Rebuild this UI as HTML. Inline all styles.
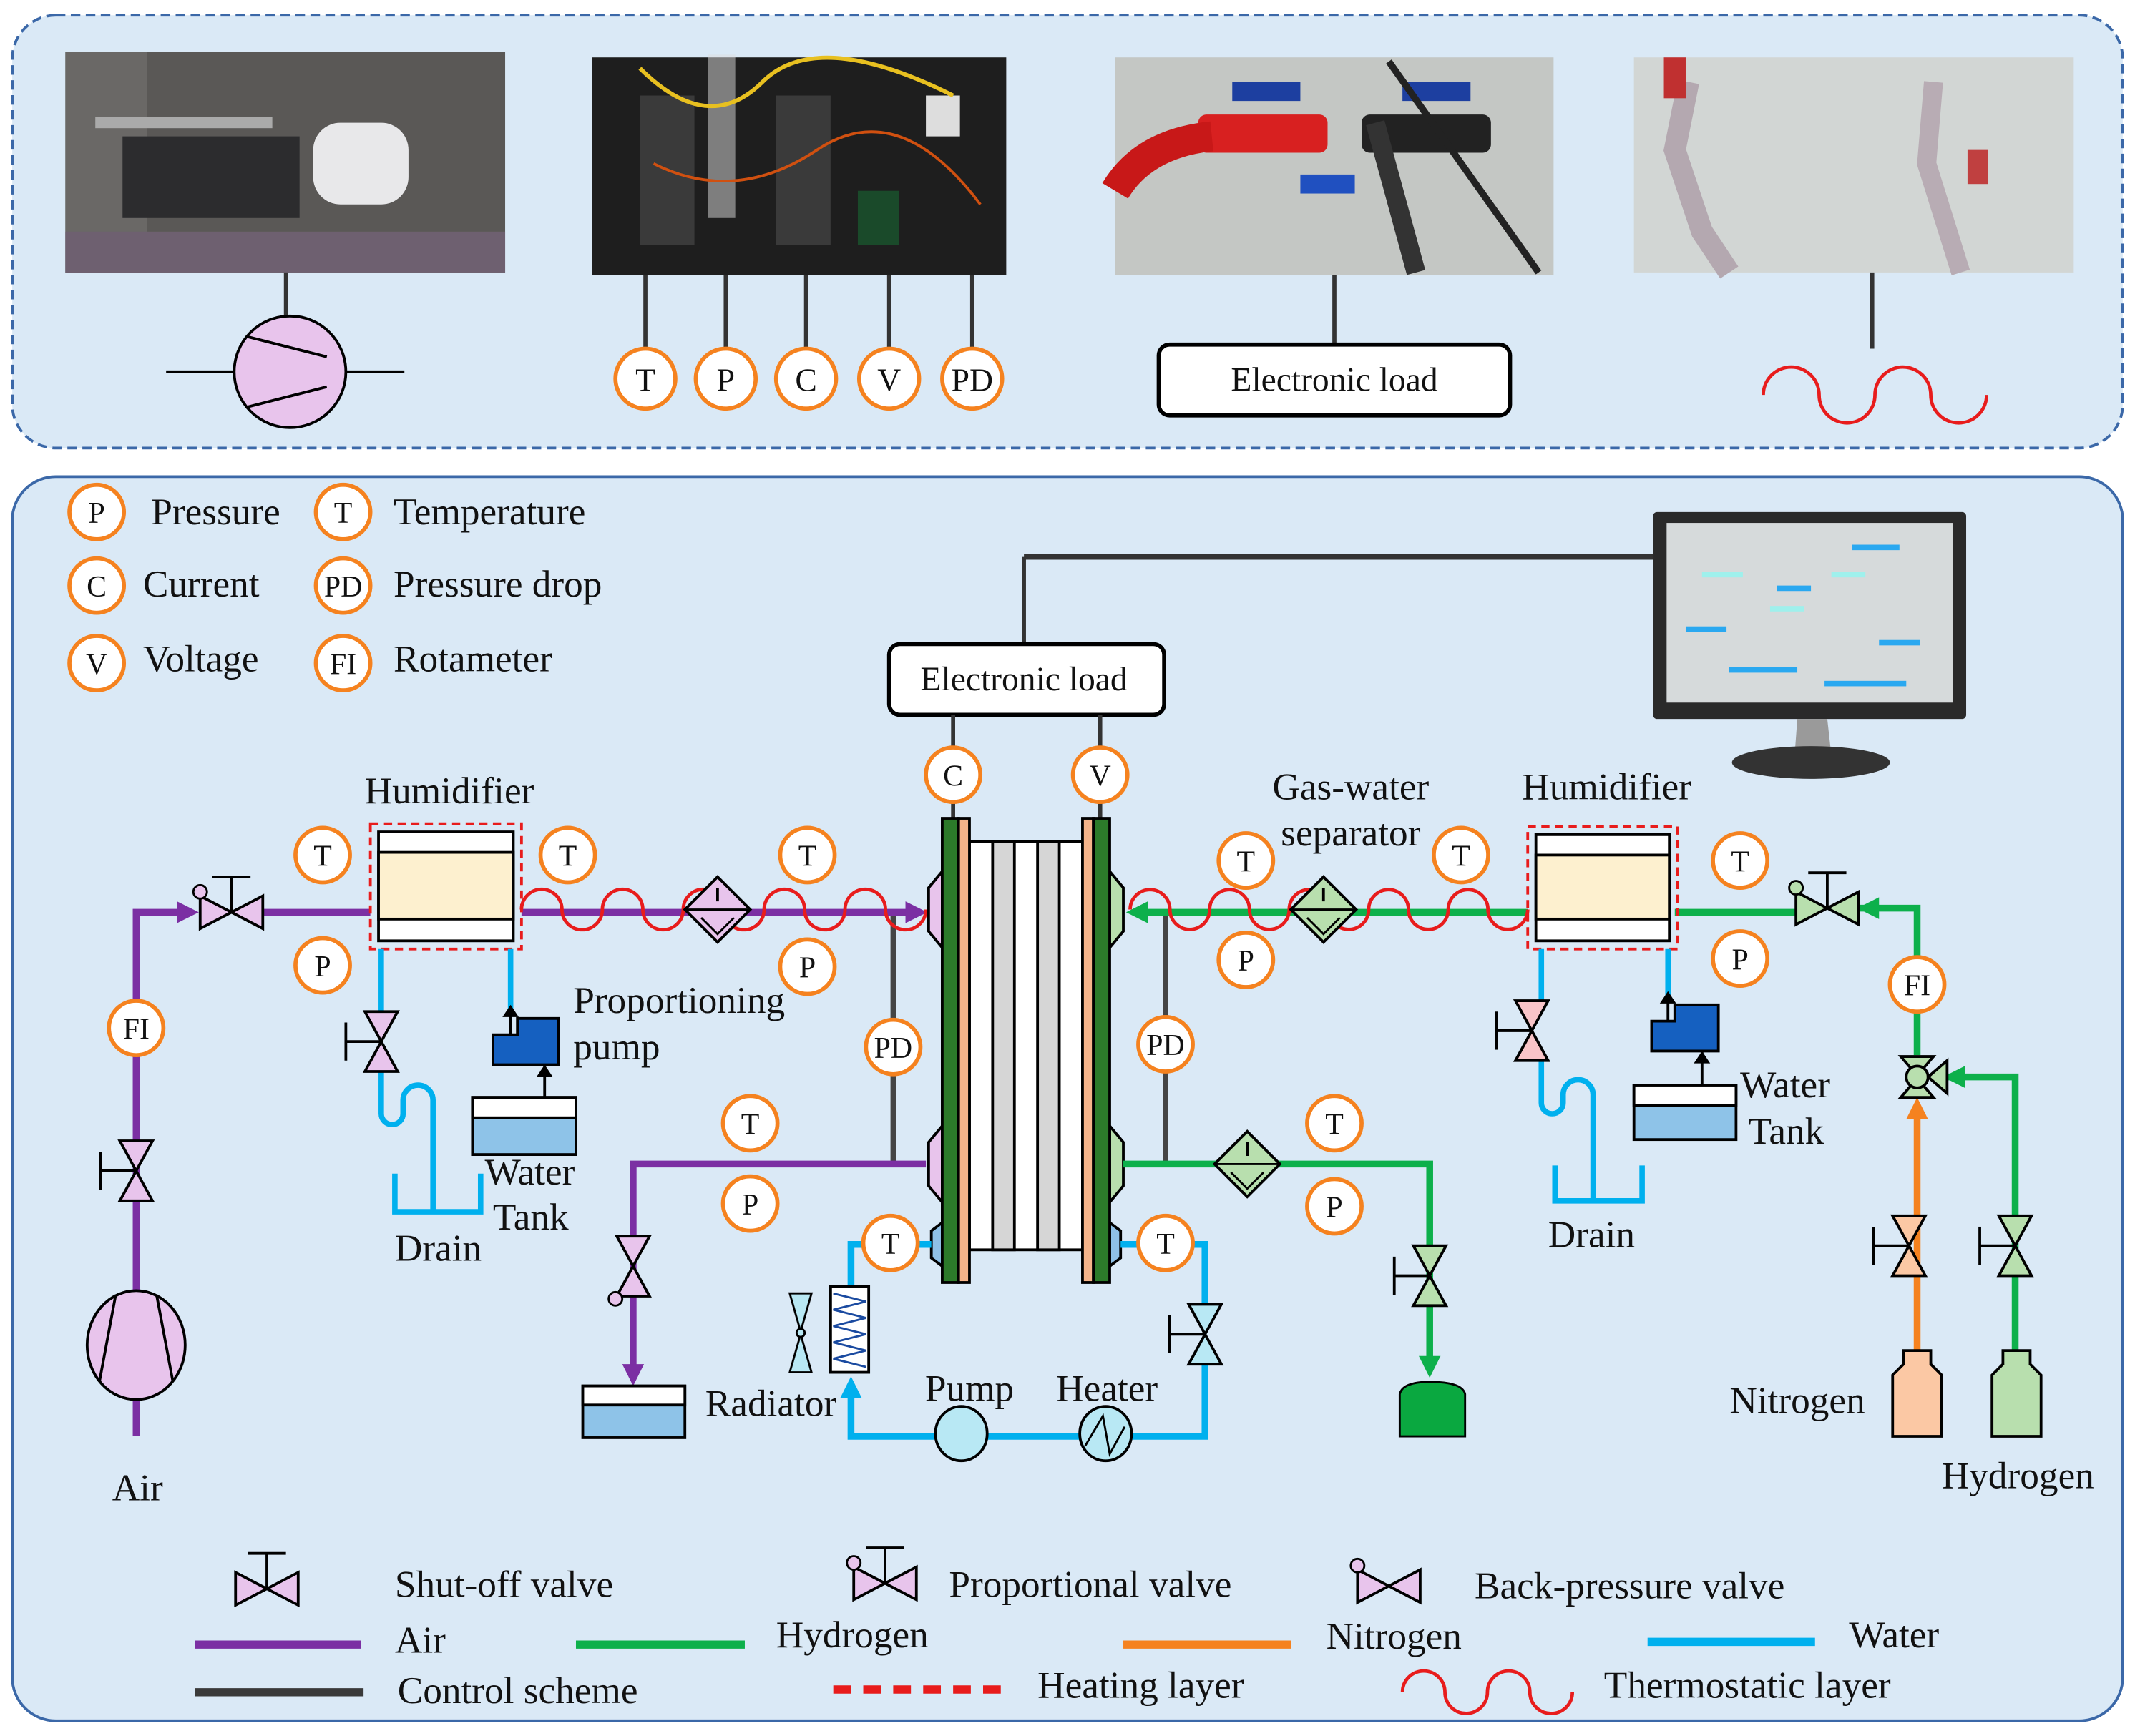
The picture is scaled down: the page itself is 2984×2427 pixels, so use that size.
<!DOCTYPE html>
<html><head><meta charset="utf-8">
<style>
html,body{margin:0;padding:0;background:#fff;}
svg{display:block;}
text{font-family:"Liberation Serif",serif;fill:#111;}
</style></head>
<body>
<svg width="2984" height="2427" viewBox="0 0 1568 1275" xmlns="http://www.w3.org/2000/svg">
<defs>
  <symbol id="vh" overflow="visible"><polygon points="-23,-12 -23,12 0,0" stroke="#000" stroke-width="2"/><polygon points="23,-12 23,12 0,0" stroke="#000" stroke-width="2"/></symbol>
  <symbol id="vv" overflow="visible"><polygon points="-12,-22 12,-22 0,0" stroke="#000" stroke-width="2"/><polygon points="-12,22 12,22 0,0" stroke="#000" stroke-width="2"/></symbol>
  <symbol id="stemUp" overflow="visible"><line x1="0" y1="0" x2="0" y2="-26" stroke="#000" stroke-width="2"/><line x1="-14" y1="-26" x2="14" y2="-26" stroke="#000" stroke-width="2"/></symbol>
  <symbol id="stemLeft" overflow="visible"><line x1="0" y1="0" x2="-26" y2="0" stroke="#000" stroke-width="2"/><line x1="-26" y1="-14" x2="-26" y2="14" stroke="#000" stroke-width="2"/></symbol>
</defs>

<!-- TOP PANEL -->
<rect x="9" y="11" width="1550" height="318" rx="32" fill="#dae9f6" stroke="#3b68a8" stroke-width="2" stroke-dasharray="7,4"/>
<rect x="48" y="38" width="323" height="162" fill="#5a5856"/>
<rect x="48" y="38" width="60" height="162" fill="#6a6866"/>
<rect x="230" y="90" width="70" height="60" rx="20" fill="#e8e8ea"/>
<rect x="90" y="100" width="130" height="60" fill="#2c2c2e"/>
<rect x="70" y="86" width="130" height="8" fill="#aaa"/>
<rect x="48" y="170" width="323" height="30" fill="#6e6070"/>
<rect x="435" y="42" width="304" height="160" fill="#1e1e1e"/>
<rect x="470" y="70" width="40" height="110" fill="#3a3a3a"/>
<rect x="570" y="70" width="40" height="110" fill="#3a3a3a"/>
<rect x="520" y="40" width="20" height="120" fill="#ddd" opacity=".5"/>
<rect x="680" y="70" width="25" height="30" fill="#ddd"/>
<rect x="630" y="140" width="30" height="40" fill="#1a4a2a"/>
<path d="M470 50 Q520 100 560 60 T700 70" stroke="#e8c020" stroke-width="3" fill="none"/>
<path d="M480 120 Q540 150 600 110 T720 150" stroke="#d05010" stroke-width="2" fill="none"/>
<rect x="819" y="42" width="322" height="160" fill="#c4c7c4"/>
<rect x="905" y="60" width="50" height="14" fill="#1d3fa0"/>
<rect x="1030" y="60" width="50" height="14" fill="#1d3fa0"/>
<rect x="880" y="84" width="95" height="28" rx="6" fill="#d82020"/>
<path d="M819 140 Q840 105 890 100" stroke="#c81818" stroke-width="22" fill="none"/>
<rect x="1000" y="84" width="95" height="28" rx="6" fill="#222"/>
<path d="M1010 90 L1040 200" stroke="#333" stroke-width="14"/>
<path d="M1020 45 L1130 200" stroke="#222" stroke-width="5"/>
<rect x="955" y="128" width="40" height="14" fill="#2050c0"/>
<rect x="1200" y="42" width="323" height="158" fill="#d2d6d4"/>
<path d="M1240 60 L1230 110 L1250 170 L1270 200" stroke="#b4a8b0" stroke-width="16" fill="none"/>
<path d="M1420 60 L1415 120 L1440 200" stroke="#b8acb4" stroke-width="14" fill="none"/>
<rect x="1222" y="42" width="16" height="30" fill="#c03030"/>
<rect x="1445" y="110" width="15" height="25" fill="#c04040"/>
<line x1="210" y1="200" x2="210" y2="232" stroke="#333" stroke-width="3"/>
<line x1="122" y1="273" x2="297" y2="273" stroke="#000" stroke-width="2"/>
<circle cx="213" cy="273" r="41" fill="#e8c4ec" stroke="#000" stroke-width="2"/>
<line x1="181" y1="247" x2="240" y2="262" stroke="#000" stroke-width="2"/>
<line x1="181" y1="299" x2="240" y2="284" stroke="#000" stroke-width="2"/>
<g stroke="#333" stroke-width="3">
<line x1="474" y1="202" x2="474" y2="258"/><line x1="533" y1="202" x2="533" y2="258"/><line x1="592" y1="202" x2="592" y2="258"/><line x1="653" y1="202" x2="653" y2="258"/><line x1="714" y1="202" x2="714" y2="258"/>
<line x1="980" y1="202" x2="980" y2="253"/><line x1="1375" y1="200" x2="1375" y2="256"/>
</g>
<g fill="#fff" stroke="#f5821f" stroke-width="3">
<circle cx="474" cy="278" r="22"/><circle cx="533" cy="278" r="22"/><circle cx="592" cy="278" r="22"/><circle cx="653" cy="278" r="22"/><circle cx="714" cy="278" r="22"/>
</g>
<g font-size="24" text-anchor="middle">
<text x="474" y="287">T</text><text x="533" y="287">P</text><text x="592" y="287">C</text><text x="653" y="287">V</text><text x="714" y="287">PD</text>
</g>
<rect x="851" y="253" width="258" height="52" rx="8" fill="#fff" stroke="#000" stroke-width="3"/>
<text x="980" y="287" font-size="25" text-anchor="middle">Electronic load</text>
<path d="M1295 290 a20.5 20.5 0 0 1 41 0 a20.5 20.5 0 0 0 41 0 a20.5 20.5 0 0 1 41 0 a20.5 20.5 0 0 0 41 0" stroke="#e81c1c" stroke-width="2.5" fill="none"/>

<!-- BOTTOM PANEL -->
<rect x="9" y="350" width="1550" height="914" rx="32" fill="#dae9f6" stroke="#3b68a8" stroke-width="2"/>

<g fill="#fff" stroke="#f5821f" stroke-width="3">
<circle cx="71" cy="376" r="20"/><circle cx="252" cy="376" r="20"/><circle cx="71" cy="430" r="20"/><circle cx="252" cy="430" r="20"/><circle cx="71" cy="487" r="20"/><circle cx="252" cy="487" r="20"/>
</g>
<g font-size="22" text-anchor="middle">
<text x="71" y="384">P</text><text x="252" y="384">T</text><text x="71" y="438">C</text><text x="252" y="438">PD</text><text x="71" y="495">V</text><text x="252" y="495">FI</text>
</g>
<g font-size="28">
<text x="111" y="385">Pressure</text><text x="289" y="385">Temperature</text>
<text x="105" y="438">Current</text><text x="289" y="438">Pressure drop</text>
<text x="105" y="493">Voltage</text><text x="289" y="493">Rotameter</text>
</g>

<line x1="752" y1="473" x2="752" y2="409" stroke="#333" stroke-width="3"/>
<line x1="752" y1="409" x2="1216" y2="409" stroke="#333" stroke-width="4"/>
<rect x="1214" y="376" width="230" height="152" rx="3" fill="#2a2a2a"/>
<rect x="1224" y="384" width="210" height="132" fill="#d6dadb"/>
<g fill="#2aa8f0"><rect x="1360" y="400" width="35" height="4"/><rect x="1305" y="430" width="25" height="4"/><rect x="1238" y="460" width="30" height="4"/><rect x="1380" y="470" width="30" height="4"/><rect x="1270" y="490" width="50" height="4"/><rect x="1340" y="500" width="60" height="4"/></g>
<g fill="#9ff0ec"><rect x="1250" y="420" width="30" height="4"/><rect x="1300" y="445" width="25" height="4"/><rect x="1345" y="420" width="25" height="4"/></g>
<polygon points="1320,528 1342,528 1345,555 1318,555" fill="#9a9a9a"/>
<ellipse cx="1330" cy="560" rx="58" ry="12" fill="#333"/>

<rect x="653" y="473" width="202" height="52" rx="8" fill="#fff" stroke="#000" stroke-width="3"/>
<text x="752" y="507" font-size="25" text-anchor="middle">Electronic load</text>
<line x1="700" y1="525" x2="700" y2="601" stroke="#333" stroke-width="3"/>
<line x1="808" y1="525" x2="808" y2="601" stroke="#333" stroke-width="3"/>

<line x1="656" y1="670" x2="656" y2="855" stroke="#444" stroke-width="4"/>
<line x1="856" y1="670" x2="856" y2="855" stroke="#444" stroke-width="4"/>

<g stroke="#7b2fa3" stroke-width="5" fill="none">
<polyline points="100,1055 100,670 140,670"/>
<line x1="184" y1="670" x2="272" y2="670"/>
<line x1="383" y1="670" x2="670" y2="670"/>
<polyline points="680,855 465,855 465,1005"/>
</g>
<polygon points="130,662 146,670 130,678" fill="#7b2fa3"/>
<polygon points="665,662 681,670 665,678" fill="#7b2fa3"/>
<polygon points="457,1002 465,1018 473,1002" fill="#7b2fa3"/>
<ellipse cx="100" cy="988" rx="36" ry="40" fill="#e8c4ec" stroke="#000" stroke-width="2"/>
<line x1="85" y1="951" x2="73" y2="1015" stroke="#000" stroke-width="2"/>
<line x1="115" y1="951" x2="127" y2="1015" stroke="#000" stroke-width="2"/>
<text x="101" y="1102" font-size="28" text-anchor="middle">Air</text>
<use href="#stemLeft" x="100" y="860"/><use href="#vv" x="100" y="860" fill="#e8c4ec"/>
<use href="#stemUp" x="170" y="670"/><use href="#vh" x="170" y="670" fill="#e8c4ec"/>
<circle cx="147" cy="655" r="5" fill="#e8c4ec" stroke="#000" stroke-width="1.5"/>
<use href="#vv" x="465" y="930" fill="#e8c4ec"/>
<circle cx="452" cy="954" r="5" fill="#e8c4ec" stroke="#000" stroke-width="1.5"/>
<rect x="428" y="1018" width="75" height="38" fill="#8ec3e8" stroke="#000" stroke-width="2"/>
<rect x="428" y="1018" width="75" height="14" fill="#fff" stroke="#000" stroke-width="2"/>

<rect x="272" y="605" width="111" height="92" fill="none" stroke="#e81c1c" stroke-width="2" stroke-dasharray="6,4"/>
<rect x="278" y="611" width="99" height="80" fill="#fff" stroke="#000" stroke-width="2"/>
<rect x="278" y="626" width="99" height="49" fill="#fdf0cf" stroke="#000" stroke-width="2"/>
<text x="330" y="590" font-size="28" text-anchor="middle">Humidifier</text>
<g stroke="#00b0ee" stroke-width="4" fill="none">
<line x1="280" y1="697" x2="280" y2="745"/>
<path d="M280 785 L280 818 a8 8 0 0 0 16 0 L296 808 a11 11 0 0 1 22 0 L318 890"/>
<polyline points="290,862 290,890 353,890 353,862"/>
<line x1="375" y1="697" x2="375" y2="742"/>
</g>
<use href="#stemLeft" x="280" y="765"/><use href="#vv" x="280" y="765" fill="#e8c4ec"/>
<line x1="375" y1="742" x2="375" y2="760" stroke="#000" stroke-width="2"/>
<polygon points="369,747 375,738 381,747" fill="#000"/>
<polygon points="362,760 380,760 380,748 410,748 410,782 362,782" fill="#1560c0" stroke="#000" stroke-width="2"/>
<line x1="400" y1="782" x2="400" y2="806" stroke="#000" stroke-width="2"/>
<polygon points="394,791 400,782 406,791" fill="#000"/>
<rect x="347" y="806" width="76" height="42" fill="#8ec3e8" stroke="#000" stroke-width="2"/>
<rect x="347" y="806" width="76" height="15" fill="#fff" stroke="#000" stroke-width="2"/>
<text x="421" y="744" font-size="28">Proportioning</text>
<text x="421" y="778" font-size="28">pump</text>
<text x="356" y="870" font-size="28">Water</text>
<text x="362" y="903" font-size="28">Tank</text>
<text x="290" y="926" font-size="28">Drain</text>

<path d="M383 668 a14.85 14.85 0 0 1 29.7 0 a14.85 14.85 0 0 0 29.7 0 a14.85 14.85 0 0 1 29.7 0 a14.85 14.85 0 0 0 29.7 0 a14.85 14.85 0 0 1 29.7 0 a14.85 14.85 0 0 0 29.7 0 a14.85 14.85 0 0 1 29.7 0 a14.85 14.85 0 0 0 29.7 0 a14.85 14.85 0 0 1 29.7 0 a14.85 14.85 0 0 0 29.7 0" stroke="#e81c1c" stroke-width="2.5" fill="none"/>
<polygon points="527,644 551,668 527,692 503,668" fill="#e8c4ec" stroke="#000" stroke-width="2"/>
<line x1="503" y1="668" x2="551" y2="668" stroke="#000" stroke-width="1.5"/>
<polyline points="515,674 527,686 539,674" fill="none" stroke="#000" stroke-width="1.5"/>
<line x1="527" y1="652" x2="527" y2="662" stroke="#000" stroke-width="2"/>

<!-- STACK -->
<polygon points="692,640 682,652 682,684 692,696" fill="#e8c4ec" stroke="#000" stroke-width="2"/>
<polygon points="692,827 682,839 682,871 692,883" fill="#e8c4ec" stroke="#000" stroke-width="2"/>
<polygon points="692,898 684,904 684,924 692,930" fill="#8fc0e6" stroke="#000" stroke-width="2"/>
<polygon points="815,640 825,652 825,684 815,696" fill="#b8dfae" stroke="#000" stroke-width="2"/>
<polygon points="815,827 825,839 825,871 815,883" fill="#b8dfae" stroke="#000" stroke-width="2"/>
<polygon points="815,898 823,904 823,924 815,930" fill="#8fc0e6" stroke="#000" stroke-width="2"/>
<rect x="712" y="618" width="83" height="300" fill="#fff" stroke="#000" stroke-width="2"/>
<rect x="729" y="618" width="16" height="300" fill="#d6d6d6" stroke="#000" stroke-width="2"/>
<rect x="762" y="618" width="16" height="300" fill="#d6d6d6" stroke="#000" stroke-width="2"/>
<rect x="692" y="601" width="12" height="341" fill="#2c7a2a" stroke="#000" stroke-width="2"/>
<rect x="704" y="601" width="8" height="341" fill="#f5b48a" stroke="#000" stroke-width="2"/>
<rect x="795" y="601" width="8" height="341" fill="#f5b48a" stroke="#000" stroke-width="2"/>
<rect x="803" y="601" width="12" height="341" fill="#2c7a2a" stroke="#000" stroke-width="2"/>

<!-- HYDROGEN -->
<g stroke="#0db04b" stroke-width="5" fill="none">
<line x1="840" y1="670" x2="1122" y2="670"/>
<line x1="1230" y1="670" x2="1320" y2="670"/>
<polyline points="1362,667 1408,667 1408,702"/>
<line x1="1408" y1="744" x2="1408" y2="775"/>
<polyline points="1430,791 1480,791 1480,1000"/>
<polyline points="825,855 1050,855 1050,1000"/>
</g>
<polygon points="843,662 827,670 843,678" fill="#0db04b"/>
<polygon points="1380,659 1364,667 1380,675" fill="#0db04b"/>
<polygon points="1443,783 1427,791 1443,799" fill="#0db04b"/>
<polygon points="1042,996 1050,1012 1058,996" fill="#0db04b"/>
<line x1="1408" y1="1000" x2="1408" y2="815" stroke="#f5821f" stroke-width="5"/>
<polygon points="1400,822 1408,806 1416,822" fill="#f5821f"/>
<path d="M830 668 a14.6 14.6 0 0 1 29.2 0 a14.6 14.6 0 0 0 29.2 0 a14.6 14.6 0 0 1 29.2 0 a14.6 14.6 0 0 0 29.2 0 a14.6 14.6 0 0 1 29.2 0 a14.6 14.6 0 0 0 29.2 0 a14.6 14.6 0 0 1 29.2 0 a14.6 14.6 0 0 0 29.2 0 a14.6 14.6 0 0 1 29.2 0 a14.6 14.6 0 0 0 29.2 0" stroke="#e81c1c" stroke-width="2.5" fill="none"/>
<polygon points="972,644 996,668 972,692 948,668" fill="#b8dfae" stroke="#000" stroke-width="2"/>
<line x1="948" y1="668" x2="996" y2="668" stroke="#000" stroke-width="1.5"/>
<polyline points="960,674 972,686 984,674" fill="none" stroke="#000" stroke-width="1.5"/>
<line x1="972" y1="652" x2="972" y2="662" stroke="#000" stroke-width="2"/>
<polygon points="916,831 940,855 916,879 892,855" fill="#b8dfae" stroke="#000" stroke-width="2"/>
<line x1="892" y1="855" x2="940" y2="855" stroke="#000" stroke-width="1.5"/>
<polyline points="904,861 916,873 928,861" fill="none" stroke="#000" stroke-width="1.5"/>
<line x1="916" y1="839" x2="916" y2="849" stroke="#000" stroke-width="2"/>
<rect x="1122" y="607" width="110" height="90" fill="none" stroke="#e81c1c" stroke-width="2" stroke-dasharray="6,4"/>
<rect x="1128" y="613" width="98" height="78" fill="#fff" stroke="#000" stroke-width="2"/>
<rect x="1128" y="628" width="98" height="47" fill="#fdf0cf" stroke="#000" stroke-width="2"/>
<text x="1180" y="587" font-size="28" text-anchor="middle">Humidifier</text>
<text x="992" y="587" font-size="28" text-anchor="middle">Gas-water</text>
<text x="992" y="621" font-size="28" text-anchor="middle">separator</text>
<use href="#stemUp" x="1342" y="667"/><use href="#vh" x="1342" y="667" fill="#b8dfae"/>
<circle cx="1319" cy="652" r="5" fill="#b8dfae" stroke="#000" stroke-width="1.5"/>
<polygon points="1396,776 1420,776 1408,790" fill="#b8dfae" stroke="#000" stroke-width="2"/>
<polygon points="1396,806 1420,806 1408,792" fill="#b8dfae" stroke="#000" stroke-width="2"/>
<polygon points="1430,779 1430,803 1416,791" fill="#b8dfae" stroke="#000" stroke-width="2"/>
<circle cx="1408" cy="791" r="8" fill="#b8dfae" stroke="#000" stroke-width="2"/>
<use href="#stemLeft" x="1402" y="915"/><use href="#vv" x="1402" y="915" fill="#fbc8a4"/>
<use href="#stemLeft" x="1480" y="915"/><use href="#vv" x="1480" y="915" fill="#b8dfae"/>
<use href="#stemLeft" x="1050" y="937"/><use href="#vv" x="1050" y="937" fill="#b8dfae"/>
<path d="M1390 1055 L1390 1010 L1398 1002 L1398 992 L1418 992 L1418 1002 L1426 1010 L1426 1055 Z" fill="#fbc8a4" stroke="#000" stroke-width="2"/>
<path d="M1463 1055 L1463 1010 L1471 1002 L1471 992 L1491 992 L1491 1002 L1499 1010 L1499 1055 Z" fill="#b8dfae" stroke="#000" stroke-width="2"/>
<path d="M1028 1055 L1028 1024 Q1030 1015 1050 1015 Q1074 1015 1076 1024 L1076 1055 Z" fill="#0aa840" stroke="#000" stroke-width="1.5"/>
<text x="1320" y="1038" font-size="28" text-anchor="middle">Nitrogen</text>
<text x="1482" y="1093" font-size="28" text-anchor="middle">Hydrogen</text>
<g stroke="#00b0ee" stroke-width="4" fill="none">
<line x1="1132" y1="697" x2="1132" y2="738"/>
<path d="M1132 778 L1132 810 a8 8 0 0 0 16 0 L1148 804 a11 11 0 0 1 22 0 L1170 882"/>
<polyline points="1142,856 1142,882 1206,882 1206,856"/>
<line x1="1225" y1="697" x2="1225" y2="732"/>
</g>
<use href="#stemLeft" x="1125" y="757"/><use href="#vv" x="1125" y="757" fill="#f8c4c8"/>
<line x1="1225" y1="732" x2="1225" y2="750" stroke="#000" stroke-width="2"/>
<polygon points="1219,737 1225,728 1231,737" fill="#000"/>
<polygon points="1213,750 1230,750 1230,738 1262,738 1262,772 1213,772" fill="#1560c0" stroke="#000" stroke-width="2"/>
<line x1="1250" y1="772" x2="1250" y2="797" stroke="#000" stroke-width="2"/>
<polygon points="1244,781 1250,772 1256,781" fill="#000"/>
<rect x="1200" y="797" width="75" height="40" fill="#8ec3e8" stroke="#000" stroke-width="2"/>
<rect x="1200" y="797" width="75" height="15" fill="#fff" stroke="#000" stroke-width="2"/>
<text x="1278" y="806" font-size="28">Water</text>
<text x="1284" y="840" font-size="28">Tank</text>
<text x="1137" y="916" font-size="28">Drain</text>

<g stroke="#00b0ee" stroke-width="5" fill="none">
<polyline points="684,914 625,914 625,945"/>
<polyline points="625,1022 625,1055 885,1055 885,1002"/>
<polyline points="885,958 885,914 823,914"/>
</g>
<polygon points="617,1027 625,1011 633,1027" fill="#00b0ee"/>
<rect x="610" y="945" width="28" height="63" fill="#fff" stroke="#000" stroke-width="2"/>
<path d="M612 950 L636 956 L612 962 L636 968 L612 974 L636 980 L612 986 L636 992 L612 998 L636 1004" stroke="#1a4aa0" stroke-width="1.5" fill="none"/>
<polygon points="580,950 596,950 588,978" fill="#b8e8f4" stroke="#000" stroke-width="1.5"/>
<polygon points="580,1008 596,1008 588,980" fill="#b8e8f4" stroke="#000" stroke-width="1.5"/>
<circle cx="588" cy="979" r="3" fill="#b8e8f4" stroke="#000" stroke-width="1.5"/>
<use href="#stemLeft" x="885" y="980"/><use href="#vv" x="885" y="980" fill="#b8e8f4"/>
<ellipse cx="706" cy="1053" rx="19" ry="20" fill="#b8e8f4" stroke="#000" stroke-width="2"/>
<ellipse cx="812" cy="1053" rx="19" ry="20" fill="#b8e8f4" stroke="#000" stroke-width="2"/>
<polyline points="797,1062 810,1040 815,1068 826,1048" fill="none" stroke="#000" stroke-width="1.5"/>
<text x="712" y="1029" font-size="28" text-anchor="middle">Pump</text>
<text x="813" y="1029" font-size="28" text-anchor="middle">Heater</text>
<text x="518" y="1040" font-size="28">Radiator</text>

<g fill="#fff" stroke="#f5821f" stroke-width="3">
<circle cx="700" cy="569" r="20"/><circle cx="808" cy="569" r="20"/>
<circle cx="237" cy="628" r="20"/><circle cx="417" cy="628" r="20"/><circle cx="593" cy="628" r="20"/>
<circle cx="237" cy="709" r="20"/><circle cx="593" cy="710" r="20"/>
<circle cx="100" cy="755" r="20"/>
<circle cx="656" cy="769" r="20"/><circle cx="856" cy="767" r="20"/>
<circle cx="551" cy="825" r="20"/><circle cx="551" cy="884" r="20"/>
<circle cx="654" cy="913" r="20"/><circle cx="856" cy="913" r="20"/>
<circle cx="915" cy="632" r="20"/><circle cx="1073" cy="628" r="20"/><circle cx="1278" cy="632" r="20"/>
<circle cx="915" cy="705" r="20"/><circle cx="1278" cy="704" r="20"/>
<circle cx="1408" cy="723" r="20"/>
<circle cx="980" cy="825" r="20"/><circle cx="980" cy="886" r="20"/>
</g>
<g font-size="22" text-anchor="middle">
<text x="700" y="577">C</text><text x="808" y="577">V</text>
<text x="237" y="636">T</text><text x="417" y="636">T</text><text x="593" y="636">T</text>
<text x="237" y="717">P</text><text x="593" y="718">P</text>
<text x="100" y="763">FI</text>
<text x="656" y="777">PD</text><text x="856" y="775">PD</text>
<text x="551" y="833">T</text><text x="551" y="892">P</text>
<text x="654" y="921">T</text><text x="856" y="921">T</text>
<text x="915" y="640">T</text><text x="1073" y="636">T</text><text x="1278" y="640">T</text>
<text x="915" y="713">P</text><text x="1278" y="712">P</text>
<text x="1408" y="731">FI</text>
<text x="980" y="833">T</text><text x="980" y="894">P</text>
</g>

<use href="#stemUp" x="196" y="1167"/><use href="#vh" x="196" y="1167" fill="#e8c4ec"/>
<use href="#stemUp" x="650" y="1163"/><use href="#vh" x="650" y="1163" fill="#e8c4ec"/>
<circle cx="627" cy="1148" r="5" fill="#e8c4ec" stroke="#000" stroke-width="1.5"/>
<use href="#vh" x="1020" y="1165" fill="#e8c4ec"/>
<circle cx="997" cy="1150" r="5" fill="#e8c4ec" stroke="#000" stroke-width="1.5"/>
<g font-size="28">
<text x="290" y="1173">Shut-off valve</text>
<text x="697" y="1173">Proportional valve</text>
<text x="1083" y="1174">Back-pressure valve</text>
<text x="290" y="1214">Air</text>
<text x="570" y="1210">Hydrogen</text>
<text x="974" y="1211">Nitrogen</text>
<text x="1358" y="1210">Water</text>
<text x="292" y="1251">Control scheme</text>
<text x="762" y="1247">Heating layer</text>
<text x="1178" y="1247">Thermostatic layer</text>
</g>
<line x1="143" y1="1208" x2="265" y2="1208" stroke="#7b2fa3" stroke-width="6"/>
<line x1="423" y1="1208" x2="547" y2="1208" stroke="#0db04b" stroke-width="6"/>
<line x1="825" y1="1208" x2="948" y2="1208" stroke="#f5821f" stroke-width="6"/>
<line x1="1210" y1="1206" x2="1333" y2="1206" stroke="#00b0ee" stroke-width="6"/>
<line x1="143" y1="1243" x2="267" y2="1243" stroke="#3a3a3a" stroke-width="6"/>
<line x1="612" y1="1241" x2="738" y2="1241" stroke="#e81c1c" stroke-width="6" stroke-dasharray="13,9"/>
<path d="M1030 1243 a15.6 15.6 0 0 1 31.2 0 a15.6 15.6 0 0 0 31.2 0 a15.6 15.6 0 0 1 31.2 0 a15.6 15.6 0 0 0 31.2 0" stroke="#e81c1c" stroke-width="2.5" fill="none"/>
</svg>
</body></html>
